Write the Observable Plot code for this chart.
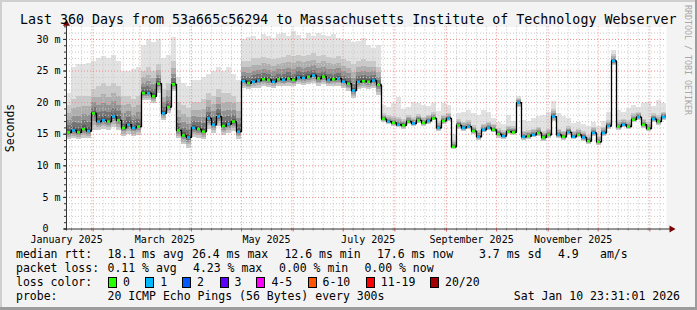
<!DOCTYPE html>
<html><head><meta charset="utf-8">
<script src="https://cdn.jsdelivr.net/npm/d3@7"></script>
<script src="https://cdn.jsdelivr.net/npm/@observablehq/plot@0.6"></script>
<style>
body{margin:0;background:#fff}
#wrap{position:relative;width:697px;height:310px;background:#f3f3f3;overflow:hidden;font-family:"DejaVu Sans Mono",monospace;color:#000}
.t{position:absolute;white-space:pre;font-size:11.5px;line-height:14px}
#plot{position:absolute;left:0;top:0}
.box{position:absolute;width:7px;height:9px;border:1px solid #000}
</style></head><body><div id="wrap"><div id="plot"></div></div>
<script>
const title = "Last 360 Days from 53a665c56294 to Massachusetts Institute of Technology Webserver";
const yAxisTitle = "Seconds";
const sideNote = "RRDTOOL / TOBI OETIKER";
const startTime = Date.UTC(2025, 0, 15, 23, 31, 1);
const endTime = Date.UTC(2026, 0, 10, 23, 31, 1);
const stepDays = 3;

// median RTT in ms, one value per 3-day step
const median = [
  15.3, 15.6, 15.3, 15.8, 15.5, 18.3, 17.0, 17.2, 17.0, 17.8, 17.2, 16.0, 16.5, 16.0, 16.2,
  21.5, 21.5, 21.0, 23.0,
  18.3, 19.3, 22.9,
  15.6, 14.8, 14.5, 16.0, 15.8, 15.4, 17.5, 16.5, 17.8, 16.3, 16.6, 17.0, 15.4,
  23.4, 23.1, 23.3, 23.5, 23.7, 23.6, 23.3, 23.7, 23.6, 23.8, 23.6, 24.0, 23.9, 24.1, 24.3, 23.8, 24.1, 23.6, 23.7, 23.8, 23.3, 23.0, 21.9, 23.3, 23.4, 23.3, 23.5, 22.8,
  17.4, 17.0, 16.8, 16.5, 16.4, 17.0, 16.7, 17.2, 16.8, 17.1, 17.5, 16.0, 17.1, 17.5, 13.0, 16.4, 16.0, 16.2, 15.5, 14.6,
  15.7, 16.0, 15.7, 15.0, 14.7, 15.4, 15.3, 20.0, 14.6, 14.7, 14.9, 15.2, 14.5, 14.9, 17.8, 14.9, 14.6, 15.3, 14.6, 14.9,
  14.5, 13.9, 15.2, 13.8, 15.2, 16.3, 26.6, 16.2, 16.5, 16.2, 17.3, 17.7, 16.5, 15.9, 17.4, 17.0, 17.7
];
// lowest ping (bottom of smoke)
const smokeLow = [
  14.2, 14.3, 14.2, 14.4, 14.3, 15.6, 15.6, 15.8, 15.6, 16.0, 15.6, 14.6, 15.0, 14.6, 14.8,
  20.3, 20.4, 19.9, 21.5,
  17.2, 18.2, 21.8,
  14.3, 13.3, 12.8, 14.5, 14.4, 14.1, 15.8, 15.1, 16.2, 14.8, 15.1, 15.4, 14.2,
  22.3, 22.0, 22.2, 22.3, 22.5, 22.4, 22.2, 22.5, 22.5, 22.6, 22.5, 22.8, 22.7, 22.9, 23.0, 22.6, 22.9, 22.5, 22.5, 22.6, 22.2, 21.8, 20.6, 22.1, 22.2, 22.0, 22.2, 21.2,
  16.9, 16.6, 16.3, 16.0, 15.8, 16.5, 16.3, 16.7, 16.2, 16.6, 17.1, 15.4, 16.6, 17.0, 12.6, 15.8, 15.5, 15.8, 15.0, 14.0,
  15.2, 15.6, 15.2, 14.4, 14.2, 14.9, 14.8, 19.2, 14.0, 14.2, 14.5, 14.7, 13.9, 14.4, 17.0, 14.4, 14.0, 14.8, 14.1, 14.5,
  13.9, 13.4, 14.7, 13.2, 14.7, 15.8, 25.8, 15.6, 16.0, 15.7, 16.8, 17.2, 15.9, 15.4, 16.9, 16.4, 17.2
];
// upper edge of the denser smoke
const smokeMid = [
  19.5, 20.5, 21.0, 21.0, 21.0, 22.0, 22.5, 23.0, 22.5, 23.0, 22.5, 21.0, 21.0, 20.5, 21.0,
  25.0, 25.5, 25.0, 26.0,
  22.0, 23.0, 26.5,
  20.0, 19.5, 19.0, 20.0, 20.0, 20.5, 21.5, 21.0, 22.0, 21.5, 21.5, 21.0, 20.0,
  26.5, 26.5, 27.0, 27.0, 27.2, 27.0, 26.8, 27.0, 27.2, 27.5, 27.3, 27.5, 27.3, 27.5, 27.7, 27.3, 27.5, 27.2, 27.0, 27.3, 26.8, 26.5, 26.0, 26.5, 26.8, 26.5, 26.5, 25.5,
  18.3, 17.9, 17.8, 17.6, 17.3, 18.0, 17.6, 18.1, 17.7, 18.0, 18.4, 17.0, 18.0, 18.3, 14.0, 17.3, 16.9, 17.1, 16.4, 15.6,
  16.6, 16.9, 16.6, 15.9, 15.6, 16.3, 16.2, 20.6, 15.5, 15.6, 15.8, 16.1, 15.4, 15.8, 18.9, 15.8, 15.5, 16.2, 15.5, 15.8,
  15.4, 14.8, 16.1, 14.7, 16.1, 17.2, 27.6, 17.1, 17.4, 17.1, 18.2, 18.5, 17.4, 16.8, 18.2, 17.9, 18.5
];
// highest ping (top of smoke)
const smokeHigh = [
  21.5, 25.5, 26.0, 26.0, 26.2, 26.5, 27.0, 27.3, 27.0, 27.5, 26.5, 25.0, 25.0, 25.2, 25.5,
  29.0, 30.0, 29.5, 30.0,
  27.0, 27.5, 30.3,
  24.0, 23.0, 22.5, 23.5, 23.5, 24.0, 24.5, 25.0, 25.5, 25.0, 25.5, 24.5, 23.5,
  30.0, 30.3, 30.5, 30.0, 30.8, 30.5, 30.2, 30.8, 31.0, 30.5, 31.2, 30.7, 30.2, 30.9, 30.5, 31.0, 30.6, 30.4, 30.8, 30.2, 29.8, 30.0, 29.5, 29.7, 30.2, 29.0, 28.5, 29.0,
  19.6, 19.3, 19.8, 20.8, 18.9, 19.2, 20.0, 19.8, 19.6, 19.4, 19.9, 18.6, 19.8, 19.5, 15.0, 18.3, 18.5, 18.8, 18.3, 18.0,
  18.8, 18.5, 17.5, 16.8, 16.6, 18.0, 17.0, 20.9, 17.2, 17.0, 17.5, 17.8, 18.0, 18.5, 20.2, 18.3, 17.8, 17.5, 16.7, 16.8,
  16.5, 16.2, 16.8, 16.3, 17.0, 18.4, 28.3, 18.7, 18.5, 19.0, 19.5, 19.3, 19.8, 20.0, 19.4, 20.3, 19.8
];
// loss bucket index per step (0 = no loss, 1 = one lost ping)
const lossBucket = [
  0,1,0,0,1,0,1,1,0,1,0,0,1,1,0,
  0,1,0,0,1,0,0,0,0,1,1,0,0,1,1,1,0,1,0,1,
  1,0,1,1,0,0,1,0,1,0,0,1,1,0,1,0,0,1,0,1,1,0,1,1,0,0,1,0,
  0,1,0,1,0,0,1,0,0,1, 0,1,0,1,0,0,1,1,0,1, 1,1,0,0,1,0,0,1,1,0,
  1,0,0,0,1,1,0,1,1,0, 1,0,1,0,1,1,1,0,1,0, 0,1,0,0,1,0,1
];

const yTickValues = [0, 5, 10, 15, 20, 25, 30];
const yTickLabels = ["0\u00a0\u00a0", "5 m", "10 m", "15 m", "20 m", "25 m", "30 m"];
const monthLabelDates = ["2025-01-16", "2025-03-16", "2025-05-16", "2025-07-16", "2025-09-16", "2025-11-16"];
const monthLabels = ["January 2025", "March 2025", "May 2025", "July 2025", "September 2025", "November 2025"];

const lossLabels = ["0", "1", "2", "3", "4-5", "6-10", "11-19", "20/20"];
const lossColors = ["#26ff00", "#00b8ff", "#0059ff", "#5e00ff", "#ff00ff", "#ff5500", "#ff0000", "#a10000"];

const medianRow = ["median rtt:", "18.1 ms avg", "26.4 ms max", "12.6 ms min", "17.6 ms now", "3.7 ms sd", "4.9", "am/s"];
const lossRow = ["packet loss:", "0.11 % avg", "4.23 % max", "0.00 % min", "0.00 % now"];
const lossColorHeader = "loss color:";
const probeRow = ["probe:", "20 ICMP Echo Pings (56 Bytes) every 300s"];
const timestamp = "Sat Jan 10 23:31:01 2026";

const DAY = 86400000;
const points = median.map((m, i) => ({
  t0: new Date(startTime + i * stepDays * DAY),
  t1: new Date(startTime + (i + 1) * stepDays * DAY),
  med: m, lo: smokeLow[i], mid: smokeMid[i], hi: smokeHigh[i],
  color: lossColors[lossBucket[i]]
}));

const start = new Date(startTime), end = new Date(endTime);
const monthStarts = d3.utcMonth.range(start, end);
const minorDays = d3.utcDay.every(6).range(start, end).filter(d => d.getUTCDate() !== 1);
const minorY = d3.range(1, 32).filter(v => v % 5 !== 0);
const majorY = yTickValues.filter(v => v > 0);
const labelDates = monthLabelDates.map(s => new Date(s + "T00:00:00Z"));

// shading layers of the smoke: fraction of the band around the median, and darkness
const shadeLayers = [[1, 0.11], [0.7, 0.13], [0.45, 0.16], [0.25, 0.2], [0.1, 0.23]];
const smokeMarks = shadeLayers.map(([k, a]) => Plot.rect(points, {
  x1: "t0", x2: "t1",
  y1: d => d.med - (d.med - d.lo) * k,
  y2: d => d.med + (d.mid - d.med) * k,
  fill: "#000", fillOpacity: a, shapeRendering: "crispEdges"
}));

const chart = Plot.plot({
  width: 697, height: 245,
  marginLeft: 66, marginRight: 31, marginTop: 26.3, marginBottom: 16.5,
  x: {type: "utc", domain: [start, end]},
  y: {domain: [0, 32]},
  color: {type: "identity"},
  style: {background: "transparent", fontFamily: "DejaVu Sans Mono", fontSize: "10px", color: "#000", overflow: "visible"},
  marks: [
    Plot.frame({fill: "#ffffff", stroke: null}),
    Plot.rect(points, {x1: "t0", x2: "t1", y1: "lo", y2: "hi", fill: "#e2e2e2", shapeRendering: "crispEdges"}),
    ...smokeMarks,
    Plot.ruleX(minorDays, {stroke: "#c8c8c8", strokeDasharray: "1,2"}),
    Plot.ruleY(minorY, {stroke: "#c8c8c8", strokeDasharray: "1,2"}),
    Plot.ruleX(monthStarts, {stroke: "#f08c8c", strokeDasharray: "1,2"}),
    Plot.ruleY(majorY, {stroke: "#f08c8c", strokeDasharray: "1,2"}),
    Plot.line(points, {x: "t0", y: "med", curve: "step-after", stroke: "#000", strokeWidth: 1.3}),
    Plot.ruleY(points, {x1: "t0", x2: "t1", y: "med", stroke: "color", strokeWidth: 2.5, insetLeft: 1, insetRight: 1}),
    Plot.axisY(d3.range(0, 33), {anchor: "left", tickSize: 2, text: null, stroke: "#333", label: null}),
    Plot.axisY(yTickValues, {anchor: "left", tickSize: 3, tickPadding: 3, label: null, stroke: "#333",
      tickFormat: v => yTickLabels[yTickValues.indexOf(v)]}),
    Plot.axisX(minorDays, {anchor: "bottom", tickSize: 2, text: null, stroke: "#999", label: null}),
    Plot.axisX(monthStarts, {anchor: "bottom", tickSize: 3, text: null, stroke: "#e06060", label: null}),
    Plot.axisX(labelDates, {anchor: "bottom", tickSize: 0, tickPadding: 6.5, label: null,
      tickFormat: d => monthLabels[labelDates.findIndex(t => +t === +d)]}),
    Plot.ruleY([0], {stroke: "#333", insetLeft: -2, insetRight: -4}),
    Plot.ruleX([start], {stroke: "#333", insetTop: -4, insetBottom: -2}),
    Plot.dot([end], {x: d => d, y: () => 0, symbol: "triangle", r: 2.6, rotate: 90, fill: "#7a0000", stroke: null, dx: 5}),
    Plot.dot([start], {x: d => d, y: () => 32, symbol: "triangle", r: 2.6, fill: "#7a0000", stroke: null, dy: -3})
  ]
});
document.getElementById("plot").appendChild(chart);

const wrap = document.getElementById("wrap");
function put(text, x, yc, extra = {}) {
  const s = document.createElement("div");
  s.className = "t";
  s.textContent = text;
  s.style.left = x + "px";
  s.style.top = (yc - 7) + "px";
  Object.assign(s.style, extra);
  wrap.appendChild(s);
  return s;
}
put(title, 20, 20, {fontSize: "13.3px", lineHeight: "16px", top: "12px"});
put(yAxisTitle, 10, 128, {left: "10px", top: "128px", transform: "translate(-50%,-50%) rotate(-90deg)"});
put(sideNote, 687.5, 60, {left: "687.5px", top: "60px", fontSize: "8.3px", lineHeight: "10px", color: "#a8a8a8",
  transform: "translate(-50%,-50%) rotate(90deg)"});

const row1X = [16, 107.5, 192, 284.4, 377, 479, 558, 600];
medianRow.forEach((s, i) => put(s, row1X[i], 254.3));
const row2X = [16, 107.5, 193, 279, 364.4];
lossRow.forEach((s, i) => put(s, row2X[i], 268.3));
put(lossColorHeader, 16, 282.3);
const boxX = [108, 145.3, 182, 219.6, 256.4, 307.6, 365.8, 430];
lossLabels.forEach((s, i) => {
  const b = document.createElement("div");
  b.className = "box";
  b.style.left = boxX[i] + "px";
  b.style.top = (282.3 - 5.5) + "px";
  b.style.background = lossColors[i];
  wrap.appendChild(b);
  put(s, boxX[i] + 15, 282.3);
});
const row4X = [16, 107.5];
probeRow.forEach((s, i) => put(s, row4X[i], 296.3));
put(timestamp, 0, 296.3, {left: "auto", right: "17px"});

[["0px","0px","697px","2px","#cfcfcf"],["0px","0px","2px","310px","#cfcfcf"],
 ["695px","0px","2px","310px","#9c9c9c"],["0px","307px","697px","3px","#9c9c9c"]].forEach(([l,t,w,h,c]) => {
  const e = document.createElement("div");
  Object.assign(e.style, {position: "absolute", left: l, top: t, width: w, height: h, background: c});
  wrap.appendChild(e);
});
</script></body></html>
